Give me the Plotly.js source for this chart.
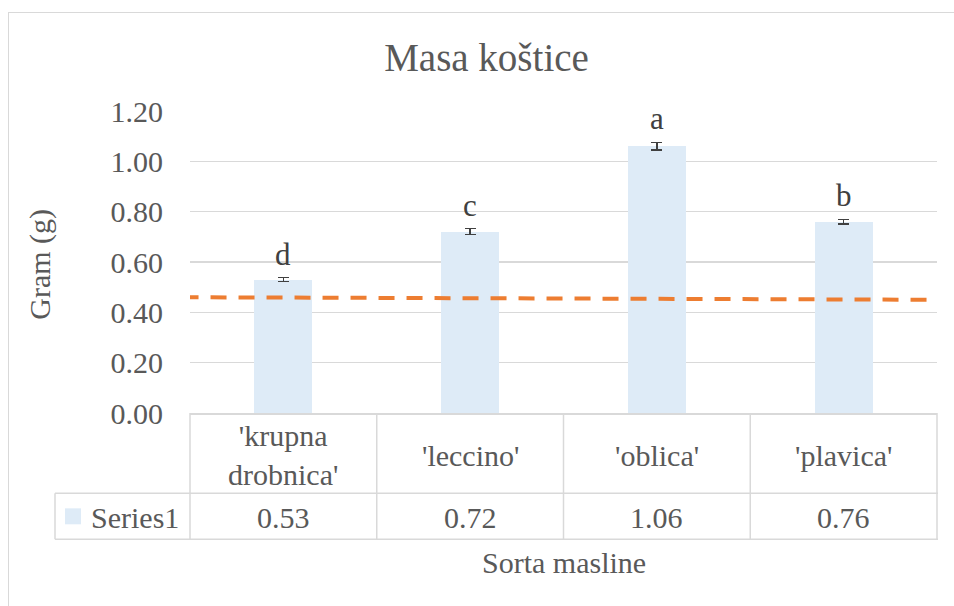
<!DOCTYPE html>
<html>
<head>
<meta charset="utf-8">
<script src="https://cdn.plot.ly/plotly-3.0.1.min.js"></script>
<style>
  html, body { margin: 0; padding: 0; background: #ffffff; overflow: hidden; }
  #frame { position: absolute; left: 8px; top: 12px; width: 1200px; height: 900px;
           border: 1.5px solid #D9D9D9; box-sizing: border-box; }
  #chart { position: absolute; left: 0; top: 0; width: 954px; height: 606px; }
</style>
</head>
<body>
<div id="frame"></div>
<div id="chart"></div>
<script>
// ---- data ----
var categories = ["'krupna<br>drobnica'", "'leccino'", "'oblica'", "'plavica'"];
var values = [0.53, 0.72, 1.06, 0.76];
var errors = [0.008, 0.012, 0.015, 0.009];
var letters = ["d", "c", "a", "b"];
var seriesName = "Series1";
var refLineX = [-0.54, 3.45];
var refLineY = [0.46, 0.45];
var yTicks = [0, 0.2, 0.4, 0.6, 0.8, 1.0, 1.2];

// ---- geometry helpers (pixel -> paper) ----
var W = 954, H = 606;
var L = 190, R = 937, T = 111, B = 413.5;
function px(X) { return (X - L) / (R - L); }
function py(Y) { return (B - Y) / (B - T); }

var FONT = "Liberation Serif";
var GRAY = "#595959";
var LINE = "#D9D9D9";
var idx = values.map(function (v, i) { return i; });

var traces = [
  {
    type: 'bar', x: idx, y: values, width: 0.31, name: seriesName,
    marker: { color: '#DEEBF7' },
    error_y: { type: 'data', array: errors, visible: true, color: '#404040', thickness: 1.3, width: 5.5 },
    hoverinfo: 'skip', showlegend: false
  },
  {
    type: 'scatter', mode: 'lines', x: refLineX, y: refLineY,
    line: { color: '#ED7D31', width: 4, dash: '16px,12px' },
    hoverinfo: 'skip', showlegend: false
  }
];

var shapes = [];
function hline(Y, X0, X1) {
  shapes.push({ type: 'line', xref: 'paper', yref: 'paper', x0: px(X0), x1: px(X1), y0: py(Y), y1: py(Y),
                line: { color: LINE, width: 1.5 } });
}
function vline(X, Y0, Y1) {
  shapes.push({ type: 'line', xref: 'paper', yref: 'paper', x0: px(X), x1: px(X), y0: py(Y0), y1: py(Y1),
                line: { color: LINE, width: 1.5 } });
}
var ROW1 = 494, ROW2 = 540, LEGL = 55;
hline(ROW1, LEGL, R + 1);
hline(ROW2, LEGL, R + 1);
for (var k = 0; k <= categories.length; k++) {
  var X = L + (R - L) * k / categories.length;
  vline(X, B, ROW2);
}
vline(LEGL, ROW1, ROW2);
// legend key
shapes.push({ type: 'rect', xref: 'paper', yref: 'paper', x0: px(65), x1: px(81), y0: py(525), y1: py(509),
              fillcolor: '#DEEBF7', line: { width: 0 } });

var annotations = [];
categories.forEach(function (c, i) {
  annotations.push({ x: i, xref: 'x', y: py(456), yref: 'paper', text: c, showarrow: false,
                     xanchor: 'center', yanchor: 'middle', font: { family: FONT, size: 30, color: GRAY } });
  annotations.push({ x: i, xref: 'x', y: py(518), yref: 'paper', text: values[i].toFixed(2), showarrow: false,
                     xanchor: 'center', yanchor: 'middle', font: { family: FONT, size: 30, color: GRAY } });
  annotations.push({ x: i, xref: 'x', y: values[i] + errors[i], yref: 'y', text: letters[i], showarrow: false,
                     xanchor: 'center', yanchor: 'bottom', yshift: 4, font: { family: FONT, size: 31, color: '#404040' } });
});
annotations.push({ x: px(134.5), xref: 'paper', y: py(518), yref: 'paper', text: seriesName, showarrow: false,
                   xanchor: 'center', yanchor: 'middle', font: { family: FONT, size: 30, color: GRAY } });
annotations.push({ x: 0.5, xref: 'paper', y: py(563), yref: 'paper', text: 'Sorta masline', showarrow: false,
                   xanchor: 'center', yanchor: 'middle', font: { family: FONT, size: 30, color: GRAY } });
annotations.push({ x: px(40), xref: 'paper', y: py(265), yref: 'paper', text: 'Gram (g)', showarrow: false,
                   textangle: -90, xanchor: 'center', yanchor: 'middle', font: { family: FONT, size: 30, color: GRAY } });

var layout = {
  width: W, height: H,
  margin: { l: L, r: W - R, t: T, b: H - B, pad: 0 },
  paper_bgcolor: 'rgba(0,0,0,0)', plot_bgcolor: 'rgba(0,0,0,0)',
  font: { family: FONT, color: GRAY },
  title: { text: 'Masa koštice', xref: 'container', yref: 'container', x: 486.5 / W, xanchor: 'center',
           y: 1 - 57 / H, yanchor: 'middle', font: { family: FONT, size: 39, color: GRAY } },
  xaxis: { range: [-0.5, 3.5], showgrid: false, zeroline: false, showticklabels: false, ticks: '',
           showline: true, linecolor: LINE, linewidth: 1.5, fixedrange: true },
  yaxis: { range: [0, 1.2], tickvals: yTicks, tickformat: '.2f', showgrid: true, gridcolor: LINE, gridwidth: 1.5,
           zeroline: false, showline: false, ticks: '', ticklabelstandoff: 26,
           tickfont: { family: FONT, size: 30, color: GRAY }, fixedrange: true },
  shapes: shapes,
  annotations: annotations,
  showlegend: false,
  bargap: 0
};

Plotly.newPlot('chart', traces, layout, { displayModeBar: false, staticPlot: true });
</script>
</body>
</html>
